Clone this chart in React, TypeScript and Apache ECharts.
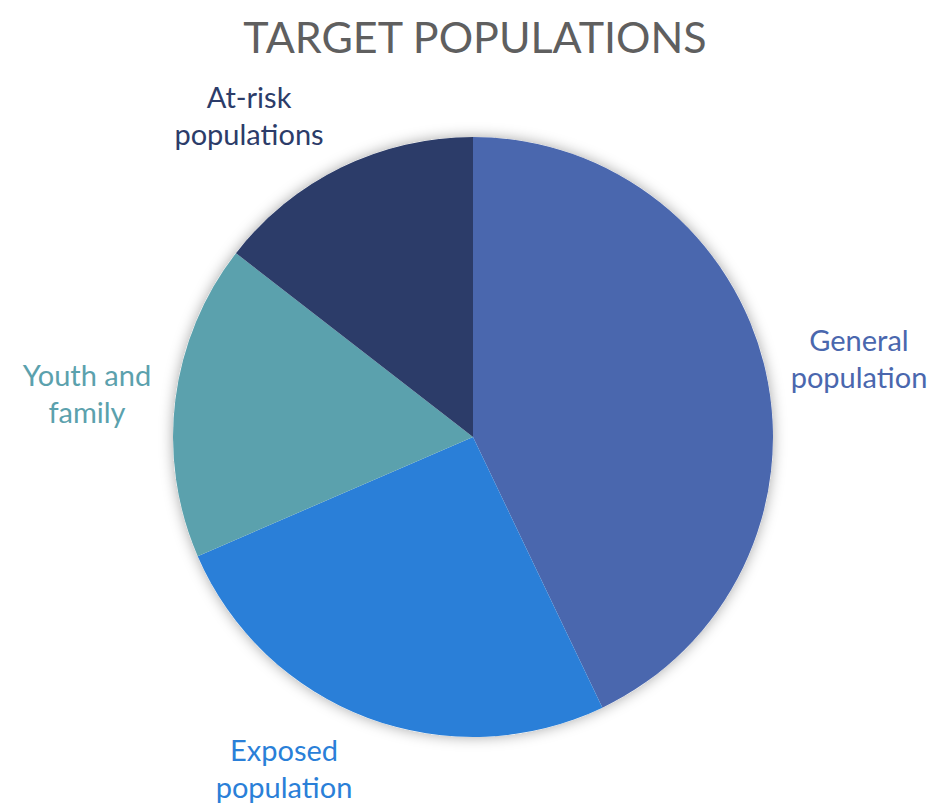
import React, { useEffect, useRef } from "react";
import * as echarts from "echarts";

const categories = ["General\npopulation", "Exposed\npopulation", "Youth and\nfamily", "At-risk\npopulations"];
const values = [42.9, 25.6, 17.0, 14.5];
const colors = ["#4A67AE", "#2A7FD8", "#5BA1AD", "#2C3C69"];
const labelPos = [
  [859, 358],
  [284, 768],
  [87, 393],
  [249, 115],
];

export default function App() {
  const ref = useRef<HTMLDivElement>(null);
  useEffect(() => {
    document.body.style.margin = "0";
    const chart = echarts.init(ref.current!, null, { renderer: "svg" });
    const total = values.reduce((a, b) => a + b, 0);
    chart.setOption({
      animation: false,
      backgroundColor: "#ffffff",
      title: {
        text: "TARGET POPULATIONS",
        left: "center",
        top: 10,
        textStyle: { fontFamily: "Lato", fontWeight: "normal", fontSize: 43, color: "#5f5f5f" },
      },
      series: [
        {
          type: "pie",
          silent: true,
          center: [473, 437],
          radius: 300,
          z: 1,
          label: { show: false },
          labelLine: { show: false },
          itemStyle: { color: "#ffffff", shadowBlur: 14, shadowColor: "rgba(0,0,0,0.35)" },
          data: [{ value: total, name: "bg" }],
        },
        {
          type: "pie",
          center: [473, 437],
          radius: 300,
          startAngle: 90,
          clockwise: true,
          z: 2,
          label: {
            show: true,
            position: "outside",
            formatter: "{b}",
            fontFamily: "Lato",
            fontSize: 29,
            lineHeight: 37,
            align: "center",
            overflow: "none",
            width: 220,
          },
          labelLine: { show: false },
          labelLayout: (params: any) => {
            const p = labelPos[params.dataIndex];
            return { x: p[0], y: p[1], align: "center", verticalAlign: "middle" };
          },
          data: categories.map((c, i) => ({
            name: c,
            value: values[i],
            itemStyle: { color: colors[i] },
            label: { color: colors[i] },
          })),
        },
      ],
    });
    return () => chart.dispose();
  }, []);
  return <div ref={ref} style={{ width: 950, height: 805 }} />;
}
